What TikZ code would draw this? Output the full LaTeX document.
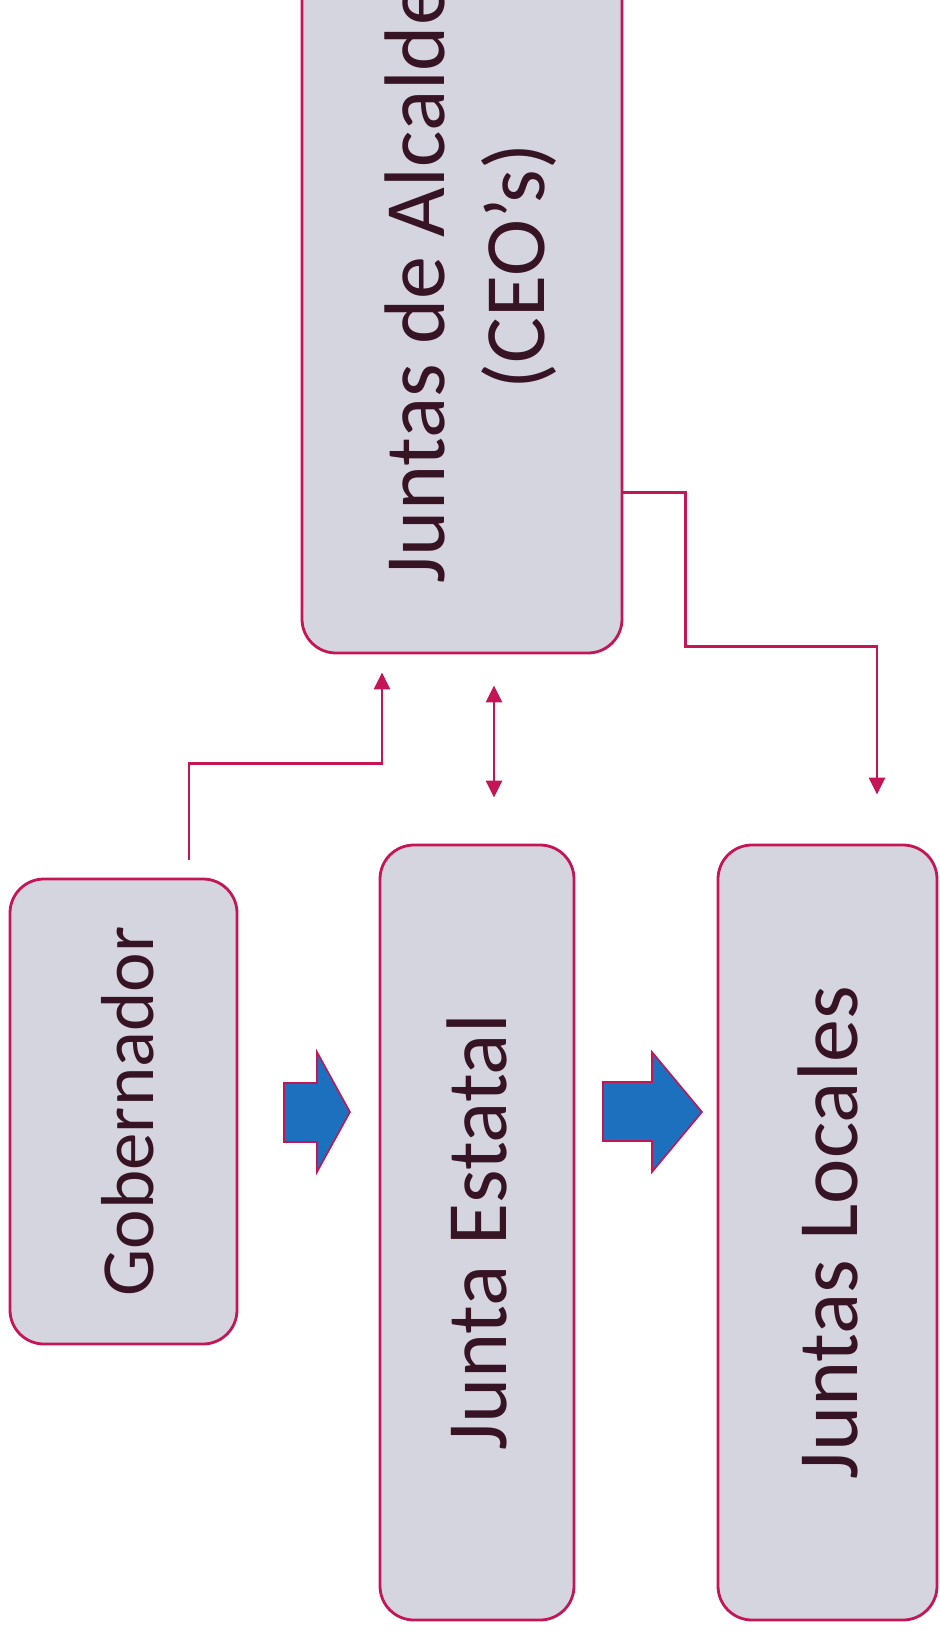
\documentclass[tikz,border=0pt]{standalone}
\usepackage{fontspec}
\setmainfont{Carlito}
\usepackage{graphicx}
\usetikzlibrary{arrows.meta,calc}
\definecolor{boxfill}{RGB}{213,213,223}
\definecolor{boxline}{RGB}{196,22,86}
\definecolor{flowblue}{RGB}{28,112,190}
\definecolor{boxtext}{RGB}{55,20,35}

\begin{document}
\begin{tikzpicture}[x=0.5pt,y=-0.5pt,
  box/.style={draw=boxline,line width=1.4pt,fill=boxfill,rounded corners=17pt,
    text=boxtext,inner sep=0pt,font=\fontsize{43}{50}\selectfont},
  link/.style={draw=boxline,line width=1.4pt},
  tip/.style={-{Triangle[width=8pt,length=8.5pt]}},
  bigarrow/.style={fill=flowblue,draw=boxline,line width=0.8pt}]
% Frame
\clip (0,0) rectangle (939,1631);
\useasboundingbox (0,0) rectangle (939,1631);

% Boxes
\node[box,minimum width=113.5pt,minimum height=232.5pt,font=\fontsize{37.5}{45}\selectfont] (gob) at (123.5,1111.5) {\hspace*{4pt}\rotatebox{90}{Gobernador}};
\node[box,minimum width=160pt,minimum height=386.5pt] (ceo) at (462,266.5)
  {\hspace*{12pt}\rotatebox{90}{\begin{tabular}{@{}c@{}}Juntas de Alcaldes\\(CEO’s)\end{tabular}}};
\node[box,minimum width=97pt,minimum height=387.5pt] (est) at (477,1232.5) {\rotatebox{90}{Junta Estatal}};
\node[box,minimum width=109.5pt,minimum height=387.5pt] (loc) at (827.5,1232.5) {\rotatebox{90}{Juntas Locales}};

% Connector ends
\coordinate (g1) at ($(gob.north)+(65.5,-18)$);
\coordinate (g2) at ($(ceo.south)+(-80,18)$);
\coordinate (d1) at ($(ceo.south)+(32,31)$);
\coordinate (d2) at ($(est.north)+(17,-46)$);
\coordinate (c1) at ($(ceo.south east)+(0,-162)$);
\coordinate (c2) at ($(loc.north)+(49.5,-49)$);

% Connectors
\draw[link,tip] (g1) -- ++(0,-96) -| (g2);
\draw[link,{Triangle[width=8pt,length=8.5pt]}-{Triangle[width=8pt,length=8.5pt]}] (d1) -- (d2);
\draw[link,tip] (c1) -- ++(62,0) -- ++(0,154) -| (c2);

% Block arrows
\draw[bigarrow] (284,1083) -- (317,1083) -- (317,1052) -- (350,1112)
  -- (317,1172) -- (317,1142) -- (284,1142) -- cycle;
\draw[bigarrow] (603,1082) -- (652,1082) -- (652,1052) -- (702,1112)
  -- (652,1172) -- (652,1141) -- (603,1141) -- cycle;
\end{tikzpicture}
\end{document}
